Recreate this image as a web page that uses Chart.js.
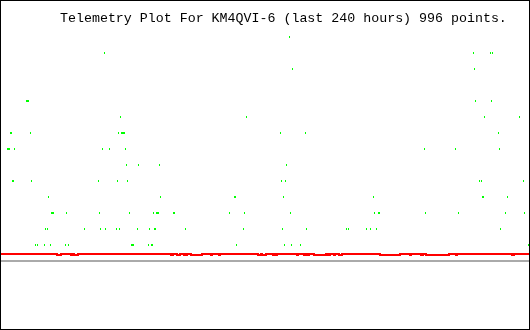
<!DOCTYPE html>
<html>
<head>
<meta charset="utf-8">
<script src="https://cdn.jsdelivr.net/npm/chart.js@4/dist/chart.umd.min.js"></script>
<style>
  body { margin: 0; background: #fff; }
  #cadre { width: 528px; height: 328px; border: 1px solid #000; background: #fff; }
  #telemetrie { display: block; }
</style>
</head>
<body>
<div id="cadre"><canvas id="telemetrie" width="528" height="328"></canvas></div>
<script>
// titre du graphique
var titre = 'Telemetry Plot For KM4QVI-6 (last 240 hours) 996 points.';

// points verts : heures (0..240) pour chaque niveau, du niveau 1 au niveau 14
var pointsParNiveau = [
    [15.68, 16.59, 19.77, 22.5, 29.32, 30.68, 59.32, 59.77, 60.23, 67.05, 68.41, 68.86, 107.05, 128.86, 132.05, 136.14, 239.77], // 1
    [20.23, 21.14, 37.95, 45.23, 47.5, 52.5, 53.86, 62.05, 67.5, 69.77, 70.23, 83.86, 110.23, 127.95, 138.86, 157.05, 157.95, 166.14, 167.95, 170.68, 227.05], // 2
    [22.95, 23.41, 23.86, 29.77, 44.77, 58.41, 69.32, 70.68, 71.14, 71.59, 78.41, 78.86, 103.86, 110.68, 131.59, 169.77, 171.59, 172.05, 192.95, 207.95, 229.32, 237.95], // 3
    [21.59, 72.5, 106.14, 106.59, 128.41, 169.32, 218.86, 219.32, 230.23], // 4
    [5.23, 5.68, 13.86, 44.32, 52.95, 57.5, 127.5, 129.32, 217.5, 218.41, 237.5], // 5
    [57.05, 62.5, 72.05, 129.77], // 6
    [2.95, 3.41, 3.86, 6.14, 46.14, 49.32, 56.59, 192.5, 206.59, 226.59], // 7
    [4.32, 4.77, 13.41, 53.41, 54.77, 55.23, 55.68, 56.14, 127.05, 138.41, 226.14], // 8
    [54.32, 111.59, 219.77, 235.68], // 9
    [11.59, 12.05, 12.5, 215.68, 222.95], // 10
    [], // 11
    [132.5, 215.23], // 12
    [47.05, 214.77, 222.5, 223.41], // 13
    [131.14] // 14
];

// ligne rouge : heure de chaque changement et niveau qui suit
var rougeHeures = [0, 25.45, 27.27, 31.82, 32.73, 33.18, 35, 77.27, 78.18, 80, 81.36, 83.18, 83.64, 84.09, 84.55,
    86.36, 91.36, 95.45, 95.91, 99.09, 99.55, 116.82, 118.18, 118.64, 120.45, 123.64, 124.09, 125, 125.45,
    134.55, 135, 137.73, 138.18, 139.09, 140, 142.27, 147.73, 148.64, 149.55, 151.36, 151.82, 153.64, 155,
    172.27, 181.36, 185.91, 186.36, 190.91, 191.82, 193.18, 203.64, 206.82, 207.27, 232.27, 233.18, 240];
var rougeNiveaux = [];
for (var i = 0; i < rougeHeures.length; i++) {
    rougeNiveaux.push(i % 2 === 0 ? 0.4375 : 0.375); // haut / bas
}
rougeNiveaux[rougeNiveaux.length - 1] = 0.4375;

// ligne grise (référence)
var grisHeures = [0, 240];
var grisNiveaux = [0, 0];

// petit point vert 1x2
var pointVert = document.createElement('canvas');
pointVert.width = 1;
pointVert.height = 2;
var pv = pointVert.getContext('2d');
pv.fillStyle = '#00ff00';
pv.fillRect(0, 0, 1, 2);

var vertData = [];
pointsParNiveau.forEach(function(heures, n) {
    heures.forEach(function(h) {
        vertData.push({ x: h, y: n + 1 });
    });
});

var titrePlugin = {
    id: 'titre',
    afterDraw: function(chart) {
        var c = chart.ctx;
        c.save();
        c.font = '13.3px "Liberation Mono"';
        c.fillStyle = '#000';
        c.fillText(titre, 59, 21);
        c.restore();
    }
};

var ctx = document.getElementById('telemetrie');
var telemetrieChart = new Chart(ctx, {
    type: 'scatter',
    data: {
        datasets: [{
            label: 'reference',
            data: grisHeures.map(function(h, i) { return { x: h, y: grisNiveaux[i] }; }),
            showLine: true,
            borderColor: '#aaaaaa',
            borderWidth: 2,
            pointRadius: 0,
            order: 3
        }, {
            label: 'rouge',
            data: rougeHeures.map(function(h, i) { return { x: h, y: rougeNiveaux[i] }; }),
            showLine: true,
            stepped: true,
            borderColor: '#ff0000',
            borderWidth: 2,
            pointRadius: 0,
            order: 2
        }, {
            label: 'vert',
            data: vertData,
            pointStyle: pointVert,
            pointRadius: 1,
            order: 1
        }]
    },
    plugins: [titrePlugin],
    options: {
        responsive: false,
        animation: false,
        events: [],
        layout: { padding: 0, autoPadding: false }, // pas de marge automatique
        scales: {
            x: { type: 'linear', display: false, min: 0, max: 240 },
            y: { type: 'linear', display: false, min: -4.25, max: 16.25 }
        },
        plugins: {
            legend: { display: false },
            tooltip: { enabled: false }
        }
    }
});
</script>
</body>
</html>
